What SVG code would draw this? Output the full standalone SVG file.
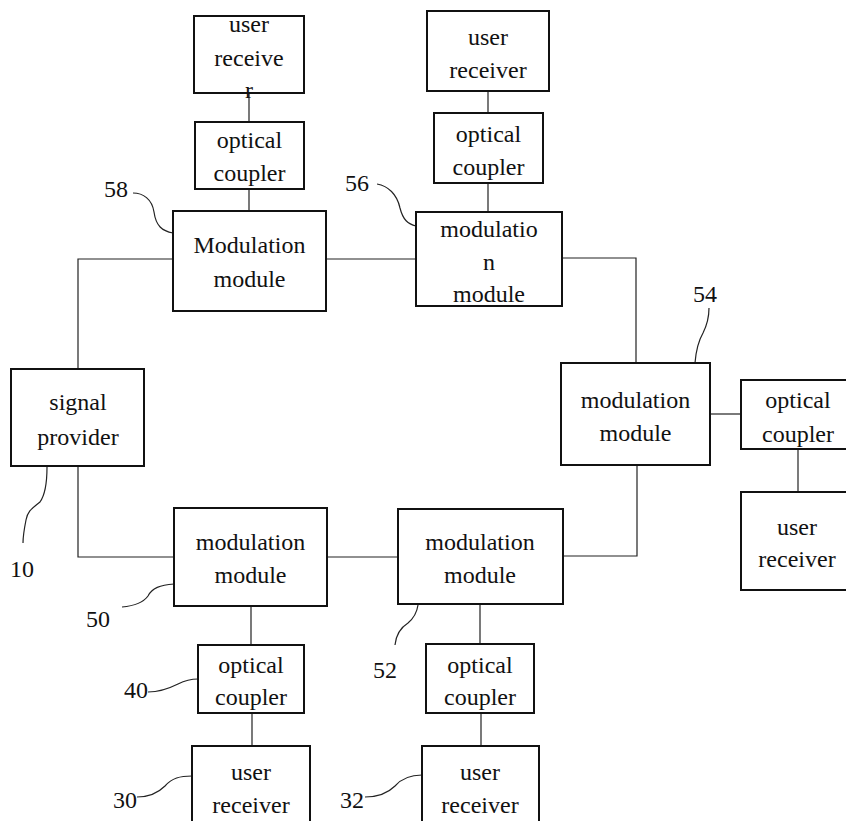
<svg xmlns="http://www.w3.org/2000/svg" width="846" height="821" viewBox="0 0 846 821" font-family="Liberation Serif, Times New Roman, Times, serif" font-size="24">
<style>
.box{fill:#fff;stroke:#111;stroke-width:2}
.t{fill:#111;text-anchor:middle}
.lbl{fill:#111}
.c{fill:none;stroke:#222;stroke-width:1.2}
.ld{fill:none;stroke:#222;stroke-width:1.2}
</style>
<rect width="846" height="821" fill="#fff"/>
<g id="connectors">
<path class="c" d="M249,93V122M249,189V211"/>
<path class="c" d="M488,91V113M488,183V212"/>
<path class="c" d="M326,259H416"/>
<path class="c" d="M173,259H78V369"/>
<path class="c" d="M562,258H636V363"/>
<path class="c" d="M710,414H741"/>
<path class="c" d="M798,449V492"/>
<path class="c" d="M637,465V556H563"/>
<path class="c" d="M78,466V557H174"/>
<path class="c" d="M327,557H398"/>
<path class="c" d="M251,606V645M252,713V746"/>
<path class="c" d="M480,604V644M481,713V746"/>
</g>
<g id="leaders">
<path class="ld" d="M133,193C143,193 152,199 154,212C156,226 162,231 173,233"/>
<path class="ld" d="M377,184C388,186 397,194 400,208C403,220 408,224 416,226"/>
<path class="ld" d="M695,363C696,350 699,340 703,333C707,325 709,318 709,308"/>
<path class="ld" d="M47,467C47,480 45,495 40,502C33,508 28,510 26,520C24,530 23,538 23,543"/>
<path class="ld" d="M122,607C133,606 143,603 148,596C152,588 160,585 174,584"/>
<path class="ld" d="M395,645C396,635 400,628 408,623C414,618 417,612 418,605"/>
<path class="ld" d="M148,692C160,692 170,688 178,684C186,680 190,679 198,679"/>
<path class="ld" d="M137,797C150,797 158,793 165,786C172,778 180,776 192,776"/>
<path class="ld" d="M365,797C378,797 388,793 395,786C402,778 410,775 422,775"/>
</g>
<g id="ur58">
<rect class="box" x="194" y="16" width="110" height="77"/>
<text class="t" x="249" y="32">user</text>
<text class="t" x="249" y="66">receive</text>
<text class="t" x="249" y="98">r</text>
</g>
<g id="oc58">
<rect class="box" x="195" y="122" width="109" height="67"/>
<text class="t" x="249.5" y="148">optical</text>
<text class="t" x="249.5" y="181">coupler</text>
</g>
<g id="mm58">
<rect class="box" x="173" y="211" width="153" height="100"/>
<text class="t" x="249.5" y="253">Modulation</text>
<text class="t" x="249.5" y="287">module</text>
</g>
<g id="ur56">
<rect class="box" x="427" y="11" width="122" height="80"/>
<text class="t" x="488" y="45">user</text>
<text class="t" x="488" y="78">receiver</text>
</g>
<g id="oc56">
<rect class="box" x="434" y="113" width="109" height="70"/>
<text class="t" x="488.5" y="142">optical</text>
<text class="t" x="488.5" y="175">coupler</text>
</g>
<g id="mm56">
<rect class="box" x="416" y="212" width="146" height="94"/>
<text class="t" x="489" y="237">modulatio</text>
<text class="t" x="489" y="270">n</text>
<text class="t" x="489" y="302">module</text>
</g>
<g id="mm54">
<rect class="box" x="561" y="363" width="149" height="102"/>
<text class="t" x="635.5" y="408">modulation</text>
<text class="t" x="635.5" y="441">module</text>
</g>
<g id="oc54">
<rect class="box" x="741" y="380" width="106" height="69"/>
<text class="t" x="798" y="408">optical</text>
<text class="t" x="798" y="442">coupler</text>
</g>
<g id="ur54">
<rect class="box" x="741" y="492" width="106" height="98"/>
<text class="t" x="797" y="535">user</text>
<text class="t" x="797" y="567">receiver</text>
</g>
<g id="sp10">
<rect class="box" x="11" y="369" width="133" height="97"/>
<text class="t" x="78" y="410">signal</text>
<text class="t" x="78" y="445">provider</text>
</g>
<g id="mm50">
<rect class="box" x="174" y="508" width="153" height="98"/>
<text class="t" x="250.5" y="550">modulation</text>
<text class="t" x="250.5" y="583">module</text>
</g>
<g id="mm52">
<rect class="box" x="398" y="509" width="165" height="95"/>
<text class="t" x="480" y="550">modulation</text>
<text class="t" x="480" y="583">module</text>
</g>
<g id="oc40">
<rect class="box" x="198" y="645" width="106" height="68"/>
<text class="t" x="251" y="673">optical</text>
<text class="t" x="251" y="705">coupler</text>
</g>
<g id="oc52">
<rect class="box" x="426" y="644" width="108" height="69"/>
<text class="t" x="480" y="673">optical</text>
<text class="t" x="480" y="705">coupler</text>
</g>
<g id="ur30">
<rect class="box" x="192" y="746" width="118" height="90"/>
<text class="t" x="251" y="780">user</text>
<text class="t" x="251" y="813">receiver</text>
</g>
<g id="ur32">
<rect class="box" x="422" y="746" width="117" height="90"/>
<text class="t" x="480" y="780">user</text>
<text class="t" x="480" y="813">receiver</text>
</g>
<g id="labels">
<text class="lbl" x="104" y="197">58</text>
<text class="lbl" x="345" y="191">56</text>
<text class="lbl" x="693" y="302">54</text>
<text class="lbl" x="10" y="577">10</text>
<text class="lbl" x="86" y="627">50</text>
<text class="lbl" x="373" y="678">52</text>
<text class="lbl" x="124" y="698">40</text>
<text class="lbl" x="113" y="808">30</text>
<text class="lbl" x="340" y="808">32</text>
</g>
</svg>
